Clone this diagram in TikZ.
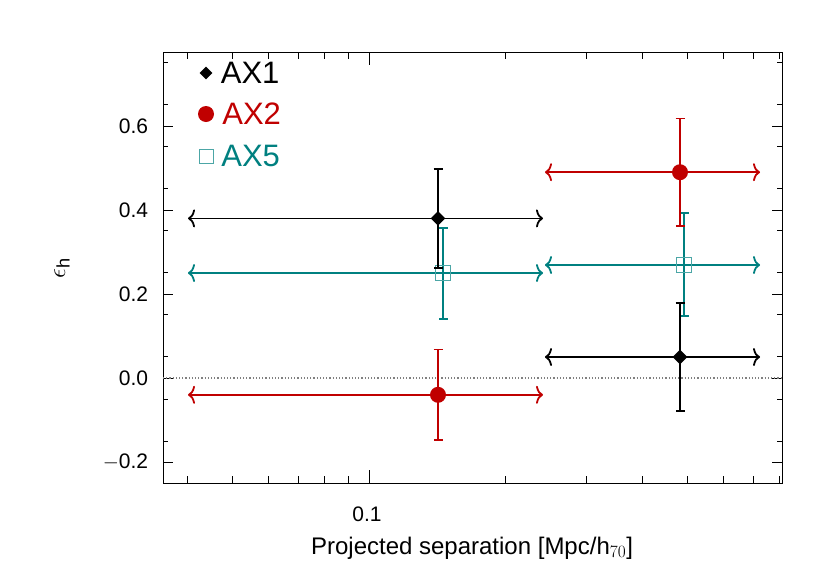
\documentclass[tikz,border=0pt]{standalone}
\usepackage{fontspec}
\setmainfont{Liberation Sans}
\usetikzlibrary{positioning, arrows, arrows.meta, shapes}
\definecolor{axred}{HTML}{C00000}
\definecolor{axteal}{HTML}{008080}
\tikzstyle{arrow} = [line width=1.8pt,{To[length=7pt,width=18pt]}-{To[length=7pt,width=18pt]}]

\begin{document}
\begin{tikzpicture}[x=1pt,y=-1pt,line width=1pt]
                    \tikzstyle{every node}=[font=\fontsize{21}{23}\selectfont]
                    \tikzstyle{bar} = [line width=1.8pt, {Bar[width=9pt]}-{Bar[width=9pt]}]
                    \tikzstyle{diam} = [diamond, fill=black, inner sep=0pt, minimum size=15pt]
                    \tikzstyle{dot} = [circle, fill=axred, inner sep=0pt, minimum size=16pt]
                    \tikzstyle{box} = [rectangle, draw=axteal!70, inner sep=0pt, minimum size=15pt, line width=1pt]
                    \tikzstyle{legend} = [font=\fontsize{31}{32}\selectfont, anchor=west]
                    \useasboundingbox (0,0) rectangle (830,587);

                    % frame and ticks
                    \draw (163,52) rectangle (782,483);
                    \foreach \v in {-0.2,0,0.2,0.4,0.6} {
                        \draw (163,378-420*\v) -- +(10,0) (782,378-420*\v) -- +(-10,0);
                    }
                    \foreach \v in {-0.25,-0.15,...,0.76} {
                        \draw (163,378-420*\v) -- +(5,0) (782,378-420*\v) -- +(-5,0);
                    }
                    \foreach \v/\t in {-0.2/$-$0.2,0/0.0,0.2/0.2,0.4/0.4,0.6/0.6}
                        \node[anchor=east] (yl) at (152,378-420*\v) {\t};
                    \foreach \v in {4,5,...,9,20,30,40,50,60,70,80} {
                        \pgfmathsetmacro\xx{369+455*log10(\v/10)}
                        \draw (\xx,483) -- +(0,-7) (\xx,52) -- +(0,7);
                    }
                    \draw (369,483) -- +(0,-13) (369,52) -- +(0,13);
                    \node (xl) at (367,514) {0.1};
                    \node[font=\fontsize{24}{26}\selectfont] (xt) at (472,548) {Projected separation [Mpc/h$_{70}$]};
                    \node[rotate=90, font=\fontsize{26}{28}\selectfont] (yt) at (62,268) {$\epsilon_{\mathrm h}$};
                    \draw[gray, dotted, line width=1.2pt] (163,378) -- (782,378);

                    % legend
                    \node[diam, minimum size=13pt] (k1) at (206,73) {};
                    \node[legend, right=4pt of k1] {AX1};
                    \node[dot, minimum size=16pt] (k2) at (206,114) {};
                    \node[legend, right=4pt of k2, text=axred] {AX2};
                    \node[box, minimum size=14pt] (k5) at (206,156) {};
                    \node[legend, right=4pt of k5, text=axteal] {AX5};

                    % data, small scale
                    \draw[arrow, axteal] (188,273) -- (543,273);
                    \draw[bar, axteal] (443,227) -- (443,320);
                    \node[box] (t1) at (443,273) {};
                    \draw[arrow] (188,218.4) -- (543,218.4);
                    \draw[bar] (438,168) -- (438,268.8);
                    \node[diam] (b1) at (438,218.4) {};
                    \draw[arrow, axred] (188,394.8) -- (543,394.8);
                    \draw[bar, axred] (438,348.6) -- (438,441);
                    \node[dot] (c1) at (438,394.8) {};

                    % data, large scale
                    \draw[arrow, axteal] (545,265) -- (760,265);
                    \draw[bar, axteal] (684,212) -- (684,317);
                    \node[box] (t2) at (684,265) {};
                    \draw[arrow, axred] (545,172.2) -- (760,172.2);
                    \draw[bar, axred] (680,117.6) -- (680,226.8);
                    \node[dot] (c2) at (680,172.2) {};
                    \draw[arrow] (545,357) -- (760,357);
                    \draw[bar] (680,302.4) -- (680,411.6);
                    \node[diam] (b2) at (680,357) {};
\end{tikzpicture}
\end{document}
